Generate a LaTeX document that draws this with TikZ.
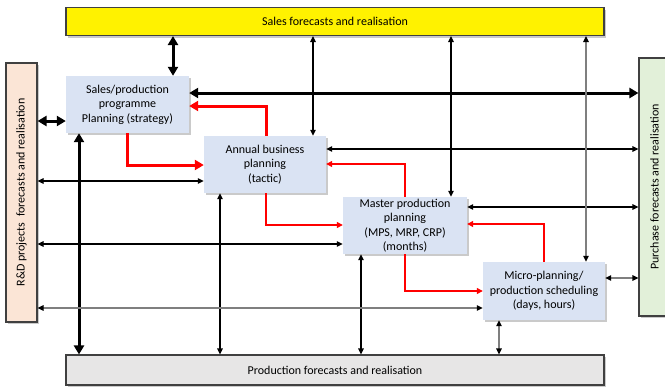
\documentclass[tikz,border=0pt]{standalone}
\usepackage{fontspec}
\setmainfont{Carlito}
\usetikzlibrary{arrows.meta,shadows}
\definecolor{boxblue}{HTML}{DAE3F3}
\definecolor{peach}{HTML}{FBE5D6}
\definecolor{lgreen}{HTML}{E2F0D9}
\definecolor{lgrey}{HTML}{E7E6E6}
\definecolor{bordergrey}{HTML}{404040}
\definecolor{midgrey}{HTML}{7F7F7F}
\definecolor{redline}{HTML}{FF0000}
\tikzset{
  plan/.style={fill=boxblue, align=center, inner sep=0pt, font=\fontsize{12}{14.5}\selectfont,
    drop shadow={shadow xshift=2pt, shadow yshift=-2pt, opacity=0.35, fill=black!60}},
  bar/.style={draw=bordergrey, line width=1.1pt, inner sep=0pt, font=\fontsize{12}{14}\selectfont,
    drop shadow={shadow xshift=2pt, shadow yshift=-2pt, opacity=0.35, fill=black!60}},
  thickarr/.style={line width=3pt, {Triangle[length=9pt,width=10pt]}-{Triangle[length=9pt,width=10pt]}},
  thinarr/.style={line width=1.1pt, {Triangle[length=6pt,width=5.5pt]}-{Triangle[length=6pt,width=5.5pt]}},
  greyarr/.style={line width=1.1pt, draw=midgrey, {Triangle[length=6pt,width=5.5pt,color=black]}-{Triangle[length=6pt,width=5.5pt,color=black]}},
  redthick/.style={line width=3pt, draw=redline, -{Triangle[length=9pt,width=10pt]}},
  redthin/.style={line width=1.2pt, draw=redline, -{Triangle[length=6pt,width=6pt]}},
}
\begin{document}
\begin{tikzpicture}[x=1pt,y=-1pt]
\useasboundingbox (0,0) rectangle (665,389);
\begin{scope}
\clip (0,0) rectangle (665,389);
% bars
\node[bar, fill=yellow, minimum width=538pt, minimum height=28pt] (sales) at (335,21.5) {Sales forecasts and realisation};
\node[bar, fill=lgrey, minimum width=538pt, minimum height=30pt] (prod) at (335,370) {Production forecasts and realisation};
\node[bar, fill=peach, minimum width=31pt, minimum height=259pt] (rd) at (21.5,192.5) {};
\node[rotate=90, font=\fontsize{12}{14}\selectfont] (rdt) at (rd.center) {R\&D projects\ \ forecasts and realisation};
\node[bar, fill=lgreen, minimum width=31pt, minimum height=258pt] (pur) at (654.5,187) {};
\node[rotate=90, font=\fontsize{12}{14}\selectfont] (purt) at (pur.center) {Purchase forecasts and realisation};
% planning boxes
\node[plan, minimum width=123pt, minimum height=57pt] (b1) at (127.5,104.5) {Sales/production\\programme\\Planning (strategy)};
\node[plan, minimum width=122pt, minimum height=57pt] (b2) at (265,164.5) {Annual business\\planning\\(tactic)};
\node[plan, minimum width=124pt, minimum height=57pt] (b3) at (405,225.5) {Master production\\planning\\(MPS, MRP, CRP)\\(months)};
\node[plan, minimum width=122pt, minimum height=58pt] (b4) at (544,291) {Micro-planning/\\production scheduling\\(days, hours)};
\end{scope}
% thick connectors
\draw[thickarr] (sales.south -| 173,0) -- (b1.north -| 173,0);
\draw[thickarr] (rd.east |- 0,121) -- (b1.west |- 0,121);
\draw[thickarr] (b1.east |- 0,93) -- (pur.west |- 0,93);
\draw[thickarr] (b1.south -| 79,0) -- (prod.north -| 79,0);
% red connectors
\draw[redthick] (b1.south -| 127,0) |- (b2.west |- 0,165);
\draw[redthick] (b2.north -| 266,0) |- (b1.east |- 0,106);
\draw[redthin] (b3.north -| 405,0) |- (b2.east |- 0,164);
\draw[redthin] (b2.south -| 266,0) |- (b3.west |- 0,225);
\draw[redthin] (b4.north -| 544,0) |- (b3.east |- 0,224);
\draw[redthin] (b3.south -| 405,0) |- (b4.west |- 0,291);
% thin black connectors
\draw[thinarr] (sales.south -| 313,0) -- (b2.north -| 313,0);
\draw[thinarr] (rd.east |- 0,181) -- (b2.west |- 0,181);
\draw[thinarr] (b2.east |- 0,149) -- (pur.west |- 0,149);
\draw[thinarr] (sales.south -| 451,0) -- (b3.north -| 451,0);
\draw[thinarr] (rd.east |- 0,244) -- (b3.west |- 0,244);
\draw[thinarr] (b2.south -| 220,0) -- (prod.north -| 220,0);
\draw[thinarr] (b3.east |- 0,207) -- (pur.west |- 0,207);
\draw[thinarr] (b3.south -| 361,0) -- (prod.north -| 361,0);
% grey connectors
\draw[greyarr] (sales.south -| 586,0) -- (b4.north -| 586,0);
\draw[greyarr] (rd.east |- 0,308) -- (b4.west |- 0,308);
\draw[greyarr] (b4.east |- 0,278) -- (pur.west |- 0,278);
\draw[greyarr] (b4.south -| 499,0) -- (prod.north -| 499,0);
\end{tikzpicture}
\end{document}
